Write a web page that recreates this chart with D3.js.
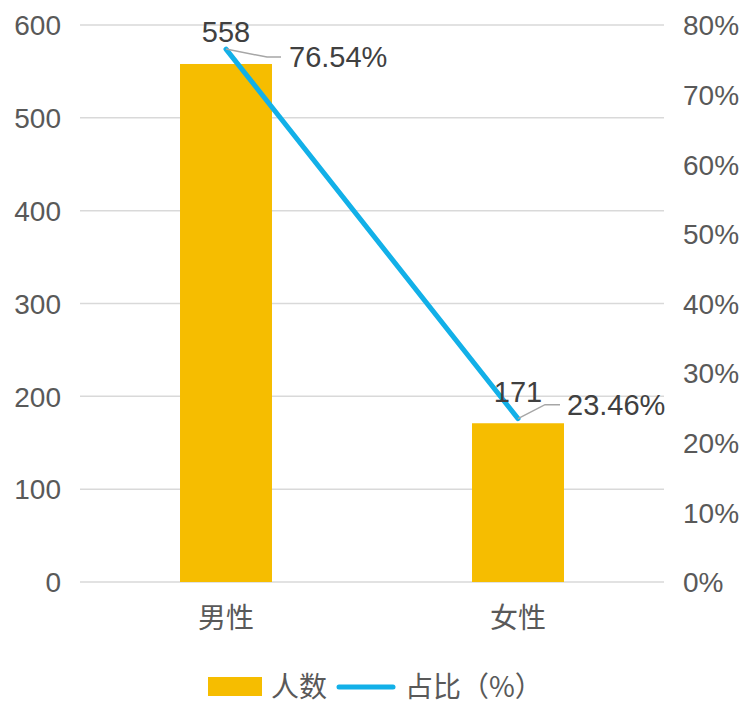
<!DOCTYPE html>
<html><head><meta charset="utf-8">
<script src="https://cdn.jsdelivr.net/npm/d3@7"></script>
<style>
html,body{margin:0;padding:0;background:#fff;}
svg text{font-family:"Liberation Sans",Arial,"Noto Sans CJK SC",sans-serif;}
</style></head>
<body>
<svg id="chart" width="743" height="704"></svg>
<script>
const categories = ["男性", "女性"];
const counts = [558, 171];
const ratios = [76.54, 23.46];
const leftTicks = [0, 100, 200, 300, 400, 500, 600];
const rightTicks = [0, 10, 20, 30, 40, 50, 60, 70, 80];
const seriesNames = ["人数", "占比（%）"];

const W = 743, H = 704;
const m = {left: 80, right: 79, top: 25, bottom: 122};
const svg = d3.select("#chart");
const barColor = "#F6BD00", lineColor = "#12B0E8", gridColor = "#D9D9D9";
const axisText = "#595959", labelText = "#404040";
const fs = 28, lfs = 29;

const x = d3.scaleBand().domain(categories).range([m.left, W - m.right]).paddingInner(0.685).paddingOuter(0.3425);
const yL = d3.scaleLinear().domain([0, 600]).range([H - m.bottom, m.top]);
const yR = d3.scaleLinear().domain([0, 80]).range([H - m.bottom, m.top]);

// gridlines
svg.append("g").selectAll("line").data(leftTicks).join("line")
  .attr("x1", m.left).attr("x2", W - m.right)
  .attr("y1", d => yL(d)).attr("y2", d => yL(d))
  .attr("stroke", gridColor).attr("stroke-width", 1.5);

// left axis
const gl = svg.append("g").attr("transform", `translate(${m.left},0)`)
  .call(d3.axisLeft(yL).tickValues(leftTicks).tickSize(0).tickPadding(19));
gl.select(".domain").remove();
gl.selectAll("text").attr("font-size", fs).attr("fill", axisText).attr("dy", "0.35em")
  .style("font-family", '"Liberation Sans",Arial,sans-serif');

// right axis
const gr = svg.append("g").attr("transform", `translate(${W - m.right},0)`)
  .call(d3.axisRight(yR).tickValues(rightTicks).tickSize(0).tickPadding(19).tickFormat(d => d + "%"));
gr.select(".domain").remove();
gr.selectAll("text").attr("font-size", fs).attr("fill", axisText).attr("dy", "0.35em")
  .style("font-family", '"Liberation Sans",Arial,sans-serif');

// x axis
const gx = svg.append("g").attr("transform", `translate(0,${H - m.bottom})`)
  .call(d3.axisBottom(x).tickSize(0).tickPadding(26));
gx.select(".domain").remove();
gx.selectAll("text").attr("font-size", fs).attr("fill", axisText).attr("dy", "0.71em")
  .style("font-family", '"Noto Sans CJK SC",sans-serif');

// bars
svg.append("g").selectAll("rect").data(categories).join("rect")
  .attr("x", d => x(d)).attr("width", x.bandwidth())
  .attr("y", (d, i) => yL(counts[i])).attr("height", (d, i) => yL(0) - yL(counts[i]))
  .attr("fill", barColor);

// line
const pts = categories.map((c, i) => [x(c) + x.bandwidth() / 2, yR(ratios[i])]);
svg.append("path").attr("d", d3.line()(pts))
  .attr("fill", "none").attr("stroke", lineColor).attr("stroke-width", 5).attr("stroke-linecap", "round");

// count labels
const cntOff = [-7, -17];
svg.append("g").selectAll("text").data(categories).join("text")
  .attr("x", (d, i) => pts[i][0]).attr("y", (d, i) => pts[i][1] + cntOff[i])
  .attr("text-anchor", "middle").attr("font-size", lfs).attr("fill", labelText)
  .text((d, i) => counts[i]);

// ratio labels with leader lines
const lead = [
  {mid: [41, 8], end: [55, 8], tx: 63, ty: 18},
  {mid: [27, -14], end: [42, -14], tx: 49, ty: -4}
];
svg.append("g").selectAll("path").data(categories).join("path")
  .attr("d", (d, i) => {
    const p = pts[i], l = lead[i];
    return `M${p[0]},${p[1]} L${p[0] + l.mid[0]},${p[1] + l.mid[1]} L${p[0] + l.end[0]},${p[1] + l.end[1]}`;
  })
  .attr("fill", "none").attr("stroke", "#A6A6A6").attr("stroke-width", 1.5);
svg.append("g").selectAll("text").data(categories).join("text")
  .attr("x", (d, i) => pts[i][0] + lead[i].tx).attr("y", (d, i) => pts[i][1] + lead[i].ty)
  .attr("font-size", lfs).attr("fill", labelText)
  .text((d, i) => ratios[i].toFixed(2) + "%");

// legend
const lg = svg.append("g");
lg.append("rect").attr("x", 208).attr("y", 677).attr("width", 54).attr("height", 19).attr("fill", barColor);
lg.append("text").attr("x", 271).attr("y", 697).attr("font-size", fs).attr("fill", axisText)
  .style("font-family", '"Noto Sans CJK SC",sans-serif').text(seriesNames[0]);
lg.append("line").attr("x1", 339).attr("x2", 393).attr("y1", 687).attr("y2", 687)
  .attr("stroke", lineColor).attr("stroke-width", 5).attr("stroke-linecap", "round");
lg.append("text").attr("x", 405).attr("y", 697).attr("font-size", fs).attr("fill", axisText)
  .style("font-family", '"Noto Sans CJK SC",sans-serif').text(seriesNames[1]);
</script>
</body></html>
